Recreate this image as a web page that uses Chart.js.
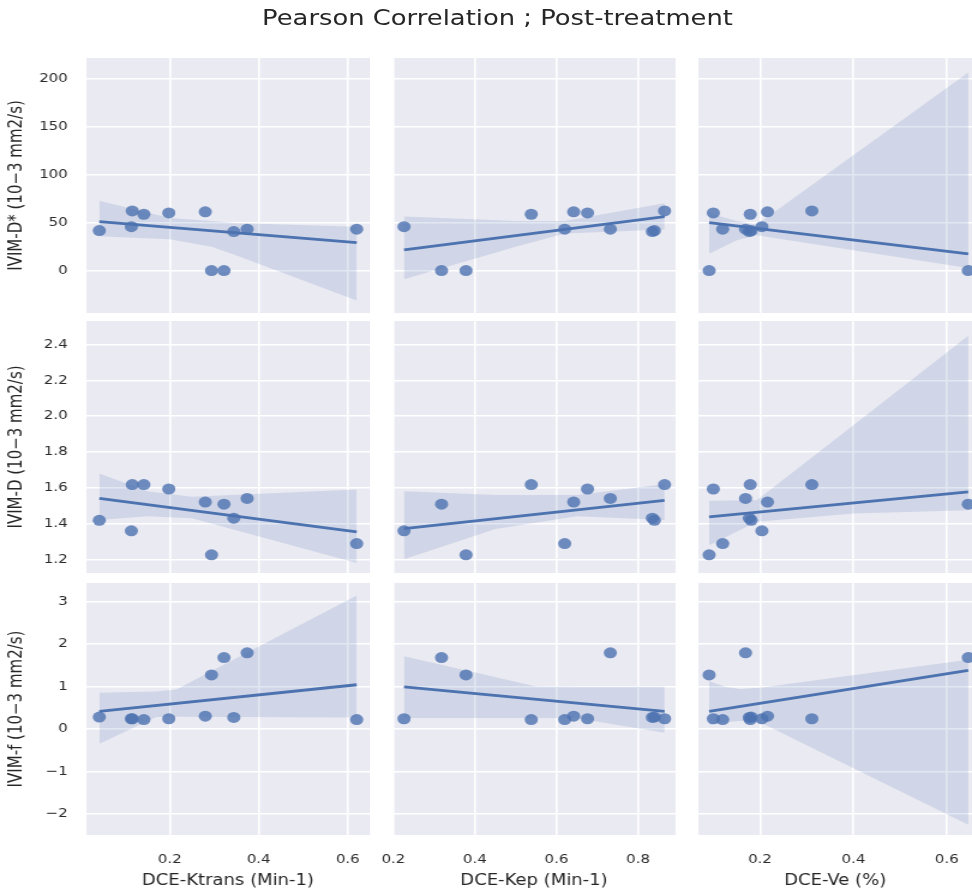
<!DOCTYPE html>
<html><head><meta charset="utf-8">
<script src="https://cdn.jsdelivr.net/npm/chart.js@4.4.1/dist/chart.umd.min.js"></script>
<style>
html,body{margin:0;padding:0;background:#fff;width:972px;height:892px;overflow:hidden}
#wrap{position:absolute;left:0;top:0;width:810px;height:892px;transform:scaleX(1.2);transform-origin:0 0}
.cell{position:absolute}
#title{position:absolute;top:5px;left:114.6px;width:600px;text-align:center;font-family:"DejaVu Sans";font-size:21.5px;color:#262626;line-height:26px;white-space:nowrap}
</style></head><body>
<div id="wrap"><div id="title">Pearson Correlation ; Post-treatment</div></div>
<script>
// ---- data (11 subjects) ----
const KTRANS = [0.042,0.114,0.116,0.142,0.198,0.280,0.294,0.322,0.344,0.374,0.620];
const KEP    = [0.840,0.226,0.865,0.538,0.676,0.642,0.378,0.318,0.835,0.732,0.620];
const VE     = [0.181,0.204,0.311,0.179,0.100,0.216,0.091,0.646,0.177,0.169,0.120];
const DSTAR  = [42,46,62.5,59,60.4,61.5,0.3,0.3,41,43.4,43.4];
const DIFF   = [1.418,1.359,1.618,1.618,1.593,1.520,1.225,1.508,1.430,1.540,1.288];
const PERF   = [0.28,0.24,0.24,0.22,0.24,0.30,1.27,1.68,0.27,1.79,0.22];

const X_LABELS = ['DCE-Ktrans (Min-1)','DCE-Kep (Min-1)','DCE-Ve (%)'];
const Y_LABELS = ['IVIM-D* (10\u22123 mm2/s)','IVIM-D (10\u22123 mm2/s)','IVIM-f (10\u22123 mm2/s)'];
const X_TICKS = [[0.2,0.4,0.6],[0.2,0.4,0.6,0.8],[0.2,0.4,0.6]];
const X_TICK_LABELS = [['0.2','0.4','0.6'],['0.2','0.4','0.6','0.8'],['0.2','0.4','0.6']];
const Y_TICKS = [[0,50,100,150,200],[1.2,1.4,1.6,1.8,2.0,2.2,2.4],[-2,-1,0,1,2,3]];
const Y_TICK_LABELS = [['0','50','100','150','200'],['1.2','1.4','1.6','1.8','2.0','2.2','2.4'],['\u22122','\u22121','0','1','2','3']];
const X_RANGE = [[0.013,0.649],[0.1975,0.892],[0.068,0.654]];
const Y_RANGE = [[-44,222],[1.1235,2.532],[-2.494,3.433]];

// regression line end points
const FIT_X = [[0.042,0.620],[0.226,0.865],[0.091,0.646]];
const FIT_Y = [
  [[51.4,29.5],[21.9,56.6],[50.3,17.7]],
  [[1.540,1.353],[1.372,1.530],[1.437,1.577]],
  [[0.414,1.040],[0.988,0.414],[0.414,1.380]]
];
// confidence band edges
const BAND_X = [
  [[0.042,0.2,0.294,0.344,0.62],[0.226,0.5,0.62,0.865],[0.091,0.15,0.193,0.646]],
  [[0.042,0.15,0.25,0.62],[0.226,0.45,0.65,0.865],[0.091,0.193,0.4,0.646]],
  [[0.042,0.17,0.215,0.62],[0.226,0.55,0.65,0.865],[0.091,0.125,0.157,0.2,0.646]]
];
const BAND_UP = [
  [[73,55,52,50,46],[56.6,52,52,70.5],[60,52,48,207]],
  [[1.68,1.58,1.55,1.59],[1.58,1.56,1.56,1.62],[1.527,1.53,1.95,2.45]],
  [[0.85,0.88,0.93,3.14],[1.71,1.0,0.99,0.99],[1.12,0.99,0.94,0.97,1.63]]
];
const BAND_LO = [
  [[36,33,25,17,-31],[-8.7,25,39,43],[17.7,32,37,3]],
  [[1.42,1.44,1.43,1.18],[1.20,1.37,1.44,1.42],[1.279,1.41,1.456,1.474]],
  [[-0.35,0.28,0.29,0.27],[0.26,0.26,0.25,-0.09],[0.1,0.16,0.19,0.16,-2.25]]
];

const X_DATA = [KTRANS, KEP, VE];
const Y_DATA = [DSTAR, DIFF, PERF];

// ---- layout (unscaled coordinates; wrapper is stretched horizontally) ----
const COLS = [{cl:0,pl:72,pr:308},{cl:311,pl:327,pr:563},{cl:570,pl:582,pr:810}];
const ROWS = [{t:58,b:313},{t:321,b:573},{t:583,b:835}];
const BOTTOM = 892;

Chart.defaults.font.family = '"DejaVu Sans", sans-serif';

const bgPlugin = {
  id: 'bg',
  beforeDraw(chart) {
    const {ctx, chartArea: a} = chart;
    ctx.save();
    ctx.fillStyle = '#EAEAF2';
    ctx.fillRect(a.left, a.top, a.right - a.left, a.bottom - a.top);
    ctx.restore();
  }
};

const wrap = document.getElementById('wrap');
for (let r = 0; r < 3; r++) {
  for (let c = 0; c < 3; c++) {
    const col = COLS[c], row = ROWS[r];
    const div = document.createElement('div');
    div.className = 'cell';
    const h = (r === 2 ? BOTTOM : row.b) - row.t;
    div.style.left = col.cl + 'px';
    div.style.top = row.t + 'px';
    div.style.width = (col.pr - col.cl) + 'px';
    div.style.height = h + 'px';
    const cv = document.createElement('canvas');
    div.appendChild(cv);
    wrap.appendChild(div);

    const pts = X_DATA[c].map((x, i) => ({x, y: Y_DATA[r][i]}));
    const fit = FIT_X[c].map((x, i) => ({x, y: FIT_Y[r][c][i]}));
    const up = BAND_X[r][c].map((x, i) => ({x, y: BAND_UP[r][c][i]}));
    const lo = BAND_X[r][c].map((x, i) => ({x, y: BAND_LO[r][c][i]}));
    const yw = col.pl - col.cl;
    const xh = r === 2 ? BOTTOM - row.b : 0;

    new Chart(cv, {
      type: 'scatter',
      data: {
        datasets: [
          {data: pts, backgroundColor: 'rgba(76,114,176,0.8)', borderColor: 'rgba(0,0,0,0)', borderWidth: 0,
           pointRadius: 5.5, pointHoverRadius: 5.5, showLine: false, clip: false, order: 0},
          {data: fit, showLine: true, borderColor: '#4C72B0', borderWidth: 2.8, pointRadius: 0, fill: false, order: 1},
          {data: up, showLine: true, borderColor: 'rgba(0,0,0,0)', borderWidth: 1, pointRadius: 0,
           fill: '+1', backgroundColor: 'rgba(76,114,176,0.16)', tension: 0, order: 2},
          {data: lo, showLine: true, borderColor: 'rgba(0,0,0,0)', borderWidth: 1, pointRadius: 0,
           fill: false, tension: 0, order: 2}
        ]
      },
      options: {
        responsive: true, maintainAspectRatio: false, animation: false,
        layout: {padding: 0, autoPadding: false},
        events: [],
        plugins: {legend: {display: false}, tooltip: {enabled: false}},
        scales: {
          x: {
            type: 'linear', min: X_RANGE[c][0], max: X_RANGE[c][1],
            afterBuildTicks: s => { s.ticks = X_TICKS[c].map(v => ({value: v})); },
            afterFit: s => { s.height = xh; s.paddingLeft = 0; s.paddingRight = 0; s.paddingTop = 0; s.paddingBottom = 0; },
            grid: {color: '#ffffff', lineWidth: 1.6, drawTicks: false},
            border: {display: false},
            ticks: {display: r === 2, autoSkip: false, maxRotation: 0, padding: 17.5,
                    font: {size: 12.5}, color: '#2b2b2b', callback: (v, i) => X_TICK_LABELS[c][i]},
            title: {display: r === 2, text: X_LABELS[c], font: {size: 15}, color: '#262626',
                    padding: {top: 0, bottom: 1.5}}
          },
          y: {
            type: 'linear', min: Y_RANGE[r][0], max: Y_RANGE[r][1],
            afterBuildTicks: s => { s.ticks = Y_TICKS[r].map(v => ({value: v})); },
            afterFit: s => { s.width = yw; s.paddingLeft = 0; s.paddingRight = 0; s.paddingTop = 0; s.paddingBottom = 0; },
            grid: {color: '#ffffff', lineWidth: 1.6, drawTicks: false},
            border: {display: false},
            ticks: {display: c === 0, autoSkip: false, padding: 15.5,
                    font: {size: 12.5}, color: '#2b2b2b', callback: (v, i) => Y_TICK_LABELS[r][i]},
            title: {display: c === 0, text: Y_LABELS[r], font: {size: 15}, color: '#262626',
                    padding: {top: 5, bottom: 0}}
          }
        }
      },
      plugins: [bgPlugin]
    });
  }
}
</script>
</body></html>
